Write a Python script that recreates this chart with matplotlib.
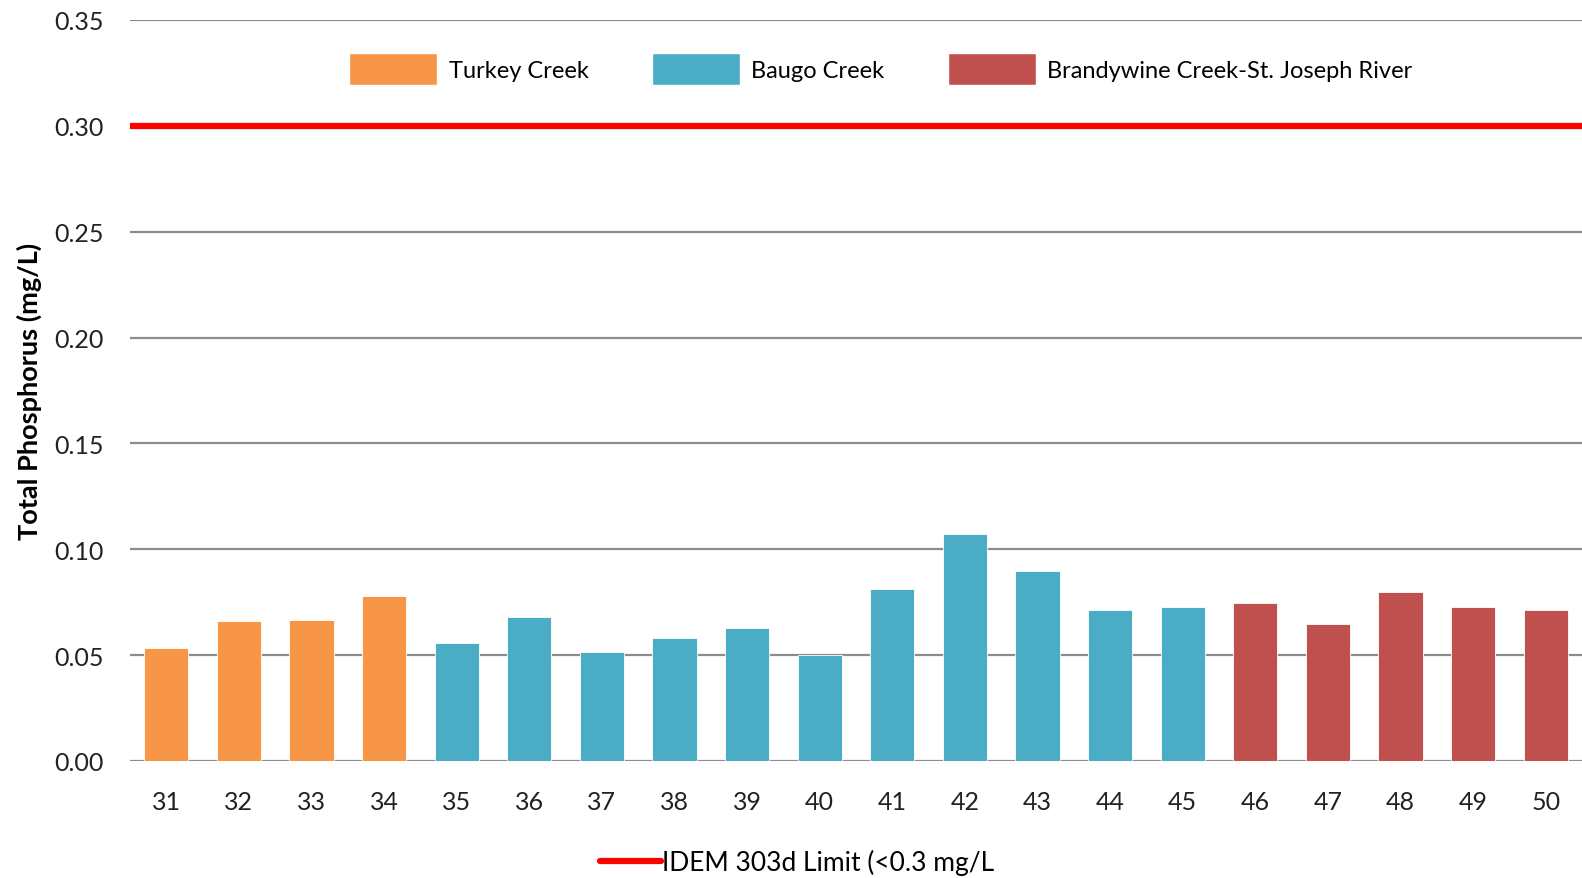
import matplotlib
matplotlib.use("Agg")
import matplotlib.pyplot as plt
from matplotlib.patches import Patch
from matplotlib.lines import Line2D

plt.rcParams['font.family'] = ['Lato', 'DejaVu Sans']

# sites and total phosphorus (mg/L)
sites = ['31', '32', '33', '34', '35', '36', '37', '38', '39', '40',
         '41', '42', '43', '44', '45', '46', '47', '48', '49', '50']
phosphorus = [0.0536, 0.0659, 0.0668, 0.0780, 0.0555, 0.0681, 0.0514, 0.0582, 0.0627, 0.0502,
              0.0813, 0.1071, 0.0899, 0.0715, 0.0726, 0.0747, 0.0648, 0.0800, 0.0726, 0.0714]
watershed = ['Turkey Creek'] * 4 + ['Baugo Creek'] * 11 + ['Brandywine Creek-St. Joseph River'] * 5
shed_names = ['Turkey Creek', 'Baugo Creek', 'Brandywine Creek-St. Joseph River']
shed_colors = {'Turkey Creek': '#F79646',
               'Baugo Creek': '#4BACC6',
               'Brandywine Creek-St. Joseph River': '#C0504D'}
limit = 0.3
limit_label = 'IDEM 303d Limit (<0.3 mg/L'
yticks = [0.00, 0.05, 0.10, 0.15, 0.20, 0.25, 0.30, 0.35]

fig = plt.figure(figsize=(15.82, 8.79), dpi=100)
ax = fig.add_axes([130 / 1582, 1 - 762 / 879, 1 - 130 / 1582, (762 - 21) / 879])

x = range(len(sites))
ax.bar(x, phosphorus, width=0.61, color=[shed_colors[w] for w in watershed],
       edgecolor='white', linewidth=0.6, zorder=3)
ax.axhline(limit, color='#FF0000', linewidth=4.5, zorder=4)

ax.set_xlim(-0.5, len(sites) - 0.5)
ax.set_ylim(0, 0.35)
ax.set_yticks(yticks)
ax.set_yticklabels(['%.2f' % t for t in yticks])
ax.set_xticks(list(x))
ax.set_xticklabels(sites)
ax.grid(axis='y', color='#8C8C8C', linewidth=1.6, zorder=0)
ax.set_axisbelow(True)
for s in ax.spines.values():
    s.set_visible(False)
ax.tick_params(axis='both', length=0, labelsize=18, colors='#222222')
ax.tick_params(axis='x', pad=21)
ax.tick_params(axis='y', pad=19)
ax.set_ylabel('Total Phosphorus (mg/L)', fontsize=19.5, fontweight='bold', labelpad=9)

handles = [Patch(facecolor=shed_colors[n], edgecolor='white') for n in shed_names]
fig.legend(handles, shed_names, loc='center', bbox_to_anchor=(881 / 1582, 1 - 70 / 879),
           ncol=3, frameon=False, fontsize=17, handlelength=3.7, handleheight=1.7,
           handletextpad=0.5, columnspacing=2.7)

fig.legend([Line2D([0], [0], color='#FF0000', linewidth=4.5, solid_capstyle='round')],
           [limit_label], loc='center', bbox_to_anchor=(797 / 1582, 1 - 863 / 879),
           frameon=False, fontsize=19, handlelength=2.3, handletextpad=0.05)

fig.savefig('out.png', dpi=100)
